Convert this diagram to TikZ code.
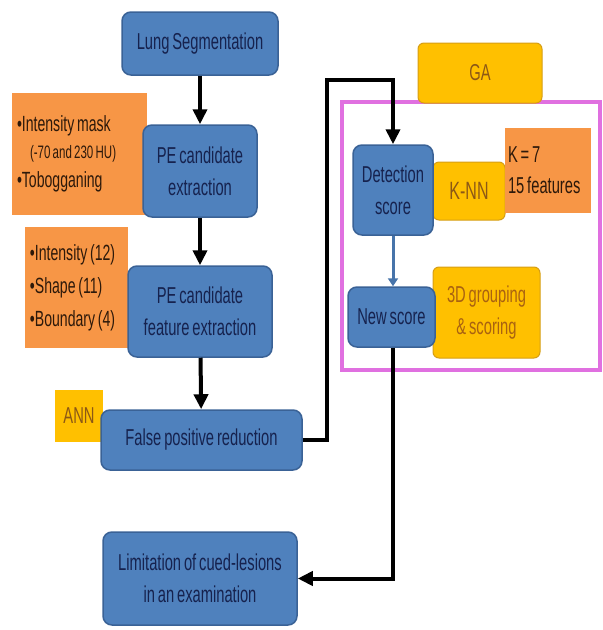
\documentclass[tikz,border=0pt]{standalone}
\usepackage{fontspec}
\setmainfont[FakeStretch=0.64,WordSpace=0.7]{Liberation Sans}
\usepackage{tikz}
\usetikzlibrary{arrows.meta}
\definecolor{stepblue}{RGB}{79,129,189}
\definecolor{stepedge}{RGB}{58,98,150}
\definecolor{steptext}{RGB}{22,34,78}
\definecolor{notefill}{RGB}{247,150,70}
\definecolor{notetext}{RGB}{45,25,10}
\definecolor{goldfill}{RGB}{255,192,0}
\definecolor{goldedge}{RGB}{214,158,20}
\definecolor{goldtext}{RGB}{140,88,22}
\definecolor{framepink}{RGB}{224,112,224}
\tikzstyle{bluebox}=[rectangle,rounded corners=9pt,draw=stepedge,line width=1.5pt,
                     fill=stepblue,text=steptext,align=center,inner sep=0pt,
                     font=\fontsize{23}{32}\selectfont]
\tikzstyle{notebox}=[rectangle,fill=notefill,text=notetext,align=flush left,
                     inner xsep=5pt,inner ysep=0pt,font=\fontsize{22}{33}\selectfont]
\tikzstyle{goldbox}=[rectangle,rounded corners=6pt,draw=goldedge,line width=1pt,
                     fill=goldfill,text=goldtext,align=center,inner sep=0pt,
                     font=\fontsize{23}{32}\selectfont]
\tikzstyle{flow}=[draw=black,line width=4pt,
                  -{Triangle[length=15pt,width=14pt]}]

\begin{document}
\begin{tikzpicture}[x=1pt,y=-1pt]
    \useasboundingbox (0,0) rectangle (603,630);
    % left column
    \node (mask) at (79.5,154) [notebox,text width=125pt,minimum height=122pt]
        {\textbullet Intensity mask\\[-6pt]
         \hspace*{13pt}{\fontsize{18}{20}\selectfont(-70 and 230 HU)}\\[-4pt]
         \textbullet Tobogganing};
    \node (feat) at (76.5,287.5) [notebox,text width=93pt,minimum height=121pt]
        {\textbullet Intensity (12)\\\textbullet Shape (11)\\\textbullet Boundary (4)};
    \node (ann) at (79,416) [goldbox,rounded corners=0pt,draw=none,
        minimum width=48pt,minimum height=52pt] {ANN};
    \node (lung) at (200,43.5) [bluebox,minimum width=156pt,minimum height=63pt]
        {Lung Segmentation};
    \node (pecand) at (200,171) [bluebox,minimum width=114pt,minimum height=92pt]
        {PE candidate\\extraction};
    \node (pefeat) at (200,311.5) [bluebox,minimum width=144pt,minimum height=91pt]
        {PE candidate\\feature extraction};
    \node (fpr) at (201.5,440) [bluebox,minimum width=201pt,minimum height=60pt]
        {False positive reduction};
    \node (limit) at (200,578.5) [bluebox,minimum width=194pt,minimum height=93pt]
        {Limitation of cued-lesions\\in an examination};
    % right column
    \draw[framepink,line width=3.5pt] (342,102) rectangle (600,370);
    \node (ga) at (480,73) [goldbox,minimum width=124pt,minimum height=60pt] {GA};
    \node (knn) at (469,191) [goldbox,minimum width=72pt,minimum height=58pt]
        {\fontsize{25}{32}\selectfont K-NN};
    \node (kval) at (548,170.5) [notebox,text width=80pt,minimum height=85pt,
        inner xsep=3pt,font=\fontsize{23}{31}\selectfont] {K = 7\\15 features\\[12pt]};
    \node (grp) at (486.5,312.5) [goldbox,text=goldtext!75!orange,
        minimum width=107pt,minimum height=91pt] {3D grouping\\\& scoring};
    \node (det) at (393,190) [bluebox,minimum width=80pt,minimum height=90pt]
        {Detection\\score};
    \node (newsc) at (391.5,317) [bluebox,minimum width=87pt,minimum height=60pt]
        {New score};
    % connectors
    \draw[flow] (lung) -- (pecand);
    \draw[flow] (pecand) -- (pefeat);
    \draw[flow] (pefeat) -- (fpr);
    \coordinate (turn) at (327,80);
    \draw[flow] (fpr.east) -| (turn) -| (det.north);
    \draw[draw=stepblue!90!black,line width=3pt,
          -{Triangle[length=8pt,width=10pt]}] (det) -- (newsc.north -| det);
    \draw[flow] (newsc.south -| det) |- (limit.east);
  \end{tikzpicture}
\end{document}
